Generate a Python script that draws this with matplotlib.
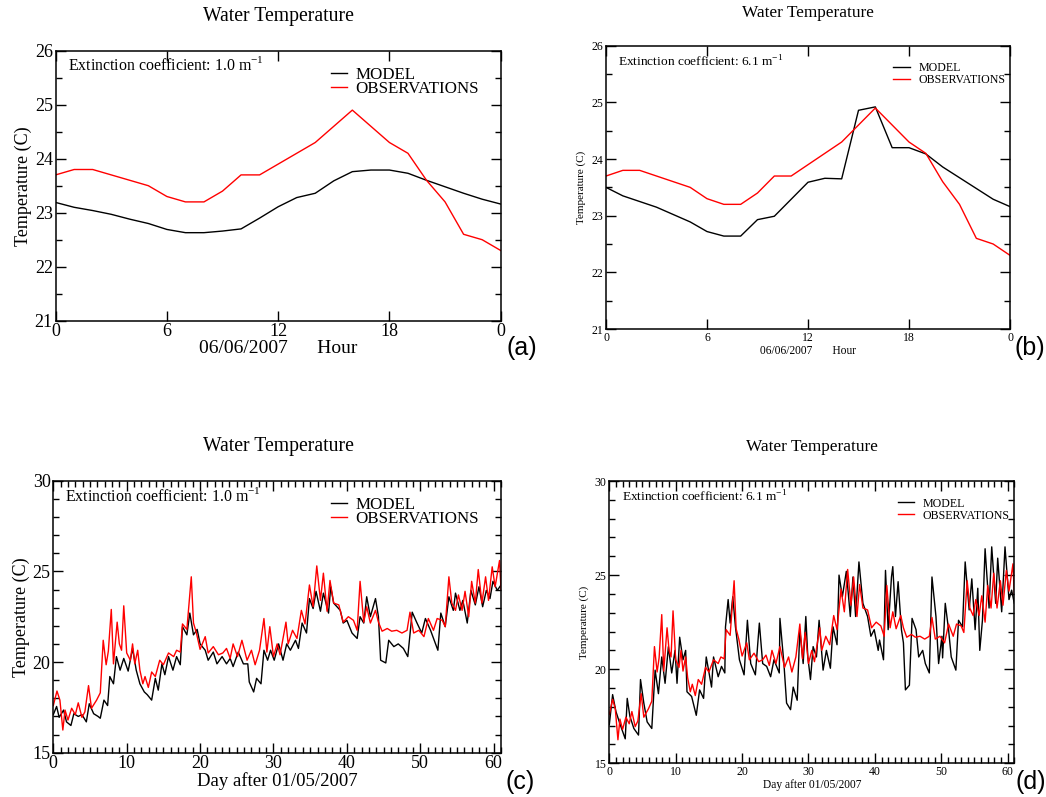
import matplotlib
matplotlib.use('Agg')
import matplotlib.pyplot as plt
import matplotlib.ticker as mticker

plt.rcParams['font.family'] = ['Liberation Serif', 'DejaVu Serif']
plt.rcParams['mathtext.fontset'] = 'custom'
plt.rcParams['mathtext.rm'] = 'Liberation Serif'

# hourly values for 06/06/2007
hours = list(range(25))
hour_labels = ['0', '6', '12', '18', '0']
obs_hourly = [23.7, 23.8, 23.8, 23.7, 23.6, 23.5, 23.3, 23.2, 23.2, 23.4, 23.7, 23.7, 23.9,
              24.1, 24.3, 24.6, 24.9, 24.6, 24.3, 24.1, 23.6, 23.2, 22.6, 22.5, 22.3]
model1_hourly = [23.19, 23.1, 23.04, 22.97, 22.88, 22.8, 22.69, 22.63, 22.63, 22.66, 22.7, 22.9, 23.11,
                 23.28, 23.36, 23.59, 23.76, 23.79, 23.79, 23.73, 23.6, 23.48, 23.36, 23.25, 23.16]
model6_hourly = [23.5, 23.35, 23.25, 23.15, 23.02, 22.89, 22.72, 22.64, 22.64, 22.93, 22.99, 23.29, 23.59,
                 23.66, 23.65, 24.86, 24.92, 24.2, 24.2, 24.09, 23.86, 23.67, 23.48, 23.29, 23.16]

# daily series after 01/05/2007 (vertices)
obs_day = [0, 0.5, 0.9, 1.3, 1.6, 2.0, 2.5, 3.0, 3.4, 3.9, 4.3, 4.8, 5.2, 5.9, 6.4, 6.8, 7.2, 7.5, 7.9,
           8.2, 8.7, 9.0, 9.3, 9.6, 10.0, 10.5, 10.8, 11.1, 11.5, 11.8, 12.2, 12.5, 12.95, 13.4, 13.9,
           14.5, 15.0, 15.7, 16.4, 16.8, 17.3, 17.6, 18.2, 18.8, 19.1, 19.5, 20.0, 20.7, 21.1, 21.8,
           22.5, 23.1, 23.6, 24.1, 24.5, 25.1, 25.7, 26.4, 27.0, 27.5, 28.1, 28.7, 29.1, 29.5, 30.0,
           30.5, 30.9, 31.7, 32.0, 32.6, 33.2, 33.8, 34.3, 34.9, 35.4, 35.9, 36.4, 36.8, 37.3, 37.7,
           38.2, 38.9, 39.5, 40.2, 40.9, 41.4, 41.8, 42.3, 42.7, 43.2, 43.9, 44.3, 44.8, 45.5, 46.1,
           46.8, 47.5, 48.2, 48.6, 49.1, 49.8, 50.5, 51.1, 51.8, 52.3, 53.0, 53.4, 53.9, 54.3, 54.8,
           55.2, 55.7, 56.1, 56.6, 57.0, 57.5, 57.9, 58.4, 58.9, 59.3, 59.8, 60.2, 60.8, 61.0]
obs_temp = [17.6, 18.4, 17.9, 16.25, 17.35, 16.8, 17.45, 17.1, 17.75, 16.95, 17.25, 18.7, 17.45, 17.9,
            18.3, 21.2, 19.85, 20.6, 22.9, 19.9, 22.2, 21.0, 20.65, 23.1, 20.5, 20.1, 21.0, 19.9, 20.65,
            19.55, 18.8, 19.2, 18.6, 19.45, 19.2, 20.1, 19.85, 20.5, 20.3, 20.65, 20.55, 22.1, 21.8,
            24.7, 22.15, 21.6, 20.7, 21.4, 20.5, 20.85, 20.4, 20.5, 20.75, 20.2, 21.0, 20.3, 21.2,
            20.1, 20.65, 19.85, 20.65, 22.4, 20.55, 21.95, 20.3, 21.0, 20.4, 22.2, 21.0, 21.75, 21.3,
            22.85, 22.1, 24.25, 23.05, 25.3, 23.4, 24.9, 22.8, 24.5, 23.25, 23.15, 22.2, 22.5, 22.3,
            21.75, 24.45, 22.2, 23.05, 22.15, 22.85, 22.2, 21.7, 21.85, 21.7, 21.75, 21.6, 21.75,
            22.75, 21.6, 21.75, 21.4, 22.4, 21.75, 22.4, 22.3, 21.95, 24.7, 23.25, 22.85, 23.7, 22.85,
            23.9, 22.5, 24.45, 23.25, 25.1, 23.25, 24.7, 23.4, 25.25, 24.15, 25.6, 24.0]

model1_day = [0, 0.45, 0.8, 1.4, 1.8, 2.4, 2.8, 3.4, 3.9, 4.5, 4.9, 5.5, 6.1, 6.4, 6.9, 7.4, 7.7, 8.2,
              8.6, 9.1, 9.6, 10.2, 10.8, 11.3, 11.8, 12.4, 12.8, 13.4, 13.9, 14.3, 14.8, 15.2, 15.7,
              16.3, 16.8, 17.3, 17.6, 18.2, 18.6, 19.1, 19.6, 20.0, 20.7, 21.1, 21.8, 22.3, 23.0, 23.6,
              24.1, 24.5, 25.2, 25.9, 26.5, 26.7, 27.3, 27.7, 28.3, 28.7, 29.2, 29.6, 30.1, 30.7, 31.3,
              31.8, 32.3, 33.0, 33.4, 33.9, 34.5, 34.9, 35.4, 35.8, 36.4, 36.8, 37.5, 37.8, 38.2, 39.1,
              39.5, 40.0, 40.7, 41.4, 41.8, 42.3, 42.7, 43.2, 43.9, 44.3, 44.6, 45.3, 45.7, 46.4, 47.0,
              47.7, 48.3, 48.9, 49.5, 50.2, 50.7, 51.4, 52.4, 52.8, 53.4, 53.9, 54.5, 54.8, 55.4, 55.8,
              56.4, 56.9, 57.5, 58.0, 58.5, 59.0, 59.5, 59.9, 60.5, 61.0]
model1_temp = [17.1, 17.55, 16.95, 17.35, 16.7, 16.5, 17.15, 17.0, 17.1, 16.7, 17.7, 17.15, 17.0, 16.9,
               17.9, 17.6, 19.2, 18.8, 20.3, 19.55, 20.2, 19.5, 20.75, 19.55, 18.8, 18.35, 18.2, 17.9,
               19.1, 18.45, 19.9, 19.3, 20.3, 19.55, 20.3, 19.85, 21.95, 21.5, 22.7, 21.5, 21.8, 21.0,
               20.65, 20.1, 20.55, 19.9, 20.3, 19.9, 20.2, 19.75, 20.55, 19.9, 19.9, 18.9, 18.35, 19.1,
               18.8, 20.65, 20.1, 20.65, 20.1, 21.0, 20.1, 21.0, 20.65, 21.2, 20.75, 22.15, 21.6, 23.5,
               22.95, 23.9, 22.8, 23.8, 22.7, 24.15, 23.25, 22.85, 22.15, 22.3, 21.6, 21.3, 22.5, 22.15,
               23.6, 22.5, 23.5, 22.5, 20.1, 19.95, 21.2, 20.85, 21.0, 20.75, 20.3, 22.75, 22.2, 21.6,
               22.4, 21.75, 20.65, 22.7, 21.95, 23.6, 22.85, 23.8, 22.85, 23.4, 22.15, 23.95, 23.15,
               24.15, 23.05, 23.95, 23.5, 24.45, 23.95, 24.25]

model6_day = [0, 0.5, 1.0, 1.6, 2.4, 2.7, 3.1, 3.7, 4.4, 4.7, 5.2, 5.7, 6.4, 6.9, 7.4, 7.9, 8.4, 8.9,
              9.4, 9.9, 10.2, 10.6, 11.1, 11.5, 11.7, 12.4, 13.1, 13.6, 14.2, 14.6, 15.4, 15.7, 16.4,
              16.9, 17.4, 17.5, 17.9, 18.2, 18.6, 19.0, 19.6, 20.3, 20.8, 21.3, 22.0, 22.6, 23.1, 23.7,
              24.3, 24.8, 25.6, 25.7, 26.3, 26.7, 27.3, 27.7, 28.3, 28.7, 29.2, 29.6, 29.9, 30.3, 30.7,
              31.2, 31.6, 32.2, 32.7, 33.3, 33.7, 34.3, 34.6, 35.1, 35.7, 36.3, 36.7, 37.1, 37.6, 38.2,
              38.9, 39.4, 39.9, 40.5, 40.7, 41.3, 41.6, 42.0, 42.5, 42.7, 43.1, 43.5, 44.0, 44.3, 44.6,
              45.2, 45.6, 46.2, 46.6, 47.2, 47.6, 48.2, 48.6, 49.2, 49.6, 50.1, 50.2, 50.6, 51.1, 51.5,
              52.2, 52.6, 53.2, 53.6, 54.2, 54.6, 55.1, 55.5, 55.8, 56.2, 56.6, 57.2, 57.6, 58.2, 58.5,
              59.1, 59.6, 60.2, 60.6, 61.0]
model6_temp = [17.05, 18.65, 17.75, 17.1, 16.3, 18.45, 17.5, 16.85, 16.5, 19.45, 18.2, 17.2, 16.85,
               19.95, 18.7, 20.65, 19.25, 21.2, 19.8, 21.0, 19.25, 21.7, 20.5, 21.0, 18.8, 18.55, 17.55,
               18.9, 18.45, 20.65, 19.05, 20.65, 19.6, 20.15, 19.8, 22.25, 23.7, 22.45, 23.85, 22.25,
               20.5, 19.7, 22.6, 20.3, 19.7, 22.45, 20.3, 20.15, 19.6, 20.5, 19.8, 22.7, 20.3, 18.2,
               17.85, 19.05, 18.35, 22.1, 20.3, 22.8, 20.65, 19.45, 21.2, 20.65, 22.6, 19.95, 21.0,
               20.05, 22.25, 21.3, 25.0, 23.85, 25.2, 22.8, 24.9, 22.8, 25.7, 23.5, 22.8, 21.75, 22.1,
               21.0, 21.55, 20.5, 25.25, 22.1, 24.9, 25.45, 22.8, 24.65, 22.1, 21.4, 18.9, 19.15, 22.7,
               22.1, 20.65, 21.0, 20.3, 19.8, 24.9, 22.8, 20.3, 21.75, 20.6, 23.5, 22.1, 20.65, 19.95,
               22.6, 22.25, 25.7, 23.15, 24.8, 22.1, 24.3, 21.0, 22.6, 26.4, 23.25, 26.5, 23.5, 25.9,
               23.05, 26.5, 23.7, 24.2, 23.5]

W, H = 1046, 797
fig = plt.figure(figsize=(W / 100, H / 100), dpi=100)


def px_axes(l, t, r, b):
    return fig.add_axes([l / W, 1 - b / H, (r - l) / W, (b - t) / H])


def setup(ax, big):
    fs = 13 if big else 8.5
    ax.tick_params(which='both', direction='in', top=True, right=True, labelsize=fs, pad=2)
    ax.tick_params(which='major', length=7, width=1)
    ax.tick_params(which='minor', length=4, width=1)
    for s in ax.spines.values():
        s.set_linewidth(1.1)


def extras(ax, ann, leg_xy, big):
    afs = 11.4 if big else 9.6
    lfs = 12.2 if big else 8.6
    ax.text(ann[0], ann[1], ann[2], transform=ax.transAxes, fontsize=afs, va='baseline', ha='left')
    ax.legend(loc='upper left', bbox_to_anchor=leg_xy, frameon=False, fontsize=lfs,
              handlelength=0.95 if big else 1.4, handletextpad=0.5 if big else 0.7,
              labelspacing=-0.12 if big else 0.0, borderpad=0, borderaxespad=0)


# (a)
ax = px_axes(55.6, 50.7, 500.7, 320.7)
ax.plot(hours, model1_hourly, color='black', lw=1.0, label='MODEL')
ax.plot(hours, obs_hourly, color='red', lw=1.0, label='OBSERVATIONS')
ax.set_xlim(0, 24)
ax.set_ylim(21, 26)
ax.set_xticks([0, 6, 12, 18, 24])
ax.set_xticklabels(hour_labels)
ax.yaxis.set_minor_locator(mticker.MultipleLocator(0.5))
setup(ax, True)
ax.set_ylabel('Temperature (C)', fontsize=13, labelpad=2)
ax.set_xlabel('06/06/2007      Hour', fontsize=14, labelpad=0)
extras(ax, (0.027, 0.928, r'Extinction coefficient: 1.0 m$^{\mathregular{-1}}$'), (0.619, 0.941), True)

# (b)
ax = px_axes(606, 45.7, 1010, 329)
ax.plot(hours, model6_hourly, color='black', lw=1.0, label='MODEL')
ax.plot(hours, obs_hourly, color='red', lw=1.0, label='OBSERVATIONS')
ax.set_xlim(0, 24)
ax.set_ylim(21, 26)
ax.set_xticks([0, 6, 12, 18, 24])
ax.set_xticklabels(hour_labels)
ax.yaxis.set_minor_locator(mticker.MultipleLocator(0.5))
setup(ax, False)
ax.set_ylabel('Temperature (C)', fontsize=8, labelpad=4)
ax.set_xlabel('06/06/2007       Hour', fontsize=8.3, labelpad=1)
extras(ax, (0.030, 0.926, r'Extinction coefficient: 6.1 m$^{\mathregular{-1}}$'), (0.711, 0.943), False)

# (c)
ax = px_axes(53.3, 480.7, 501, 752.7)
ax.plot(model1_day, model1_temp, color='black', lw=1.0, label='MODEL')
ax.plot(obs_day, obs_temp, color='red', lw=1.0, label='OBSERVATIONS')
ax.set_xlim(0, 61)
ax.set_ylim(15, 30)
ax.xaxis.set_major_locator(mticker.MultipleLocator(10))
ax.xaxis.set_minor_locator(mticker.MultipleLocator(1))
ax.yaxis.set_major_locator(mticker.MultipleLocator(5))
ax.yaxis.set_minor_locator(mticker.MultipleLocator(1))
setup(ax, True)
ax.set_ylabel('Temperature (C)', fontsize=13, labelpad=2)
ax.set_xlabel('Day after 01/05/2007', fontsize=13.5, labelpad=0)
extras(ax, (0.026, 0.926, r'Extinction coefficient: 1.0 m$^{\mathregular{-1}}$'), (0.620, 0.941), True)

# (d)
ax = px_axes(609.3, 481, 1014.3, 763.3)
ax.plot(model6_day, model6_temp, color='black', lw=1.0, label='MODEL')
ax.plot(obs_day, obs_temp, color='red', lw=1.0, label='OBSERVATIONS')
ax.set_xlim(0, 61)
ax.set_ylim(15, 30)
ax.xaxis.set_major_locator(mticker.MultipleLocator(10))
ax.xaxis.set_minor_locator(mticker.MultipleLocator(1))
ax.yaxis.set_major_locator(mticker.MultipleLocator(5))
ax.yaxis.set_minor_locator(mticker.MultipleLocator(1))
setup(ax, False)
ax.set_ylabel('Temperature (C)', fontsize=8, labelpad=4)
ax.set_xlabel('Day after 01/05/2007', fontsize=8.3, labelpad=1)
extras(ax, (0.031, 0.927, r'Extinction coefficient: 6.1 m$^{\mathregular{-1}}$'), (0.712, 0.941), False)

# panel titles and letters
titles = [(278, 17, 14.2), (808, 13, 12.4), (278, 447, 14.2), (812, 447, 12.4)]
for x, y, fs in titles:
    fig.text(x / W, 1 - y / H, 'Water Temperature', ha='center', va='center', fontsize=fs)

letters = [('(a)', 522, 348), ('(b)', 1030, 348), ('(c)', 520, 782), ('(d)', 1031, 782)]
for s, x, y in letters:
    fig.text(x / W, 1 - y / H, s, ha='center', va='center', fontsize=18, family='Liberation Sans')

fig.savefig('out.png', dpi=100)
